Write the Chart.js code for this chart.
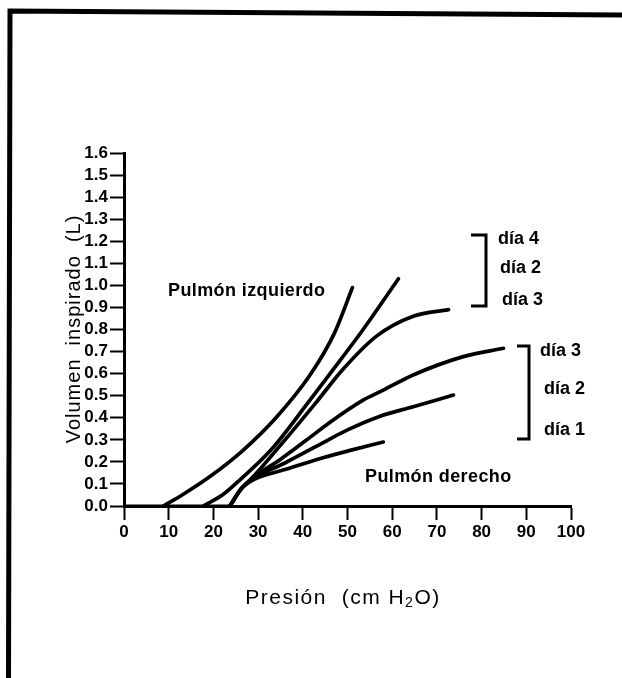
<!DOCTYPE html>
<html>
<head>
<meta charset="utf-8">
<script src="https://cdn.jsdelivr.net/npm/chart.js@4.4.1/dist/chart.umd.min.js"></script>
<style>
html,body{margin:0;padding:0;background:#fff;}
canvas{display:block;}
</style>
</head>
<body>
<canvas id="c" width="622" height="678"></canvas>
<script>
// ---- Tick labels ----
const xTickLabels = ['0','10','20','30','40','50','60','70','80','90','100'];
const yTickLabels = ['0.0','0.1','0.2','0.3','0.4','0.5','0.6','0.7','0.8','0.9','1.0','1.1','1.2','1.3','1.4','1.5','1.6'];

// ---- Series names ----
const groupNames = ['Pulmón izquierdo', 'Pulmón derecho'];
const izqNames = ['día 4', 'día 2', 'día 3'];
const derNames = ['día 3', 'día 2', 'día 1'];

// ---- Baseline (volumen 0 before inflation starts) ----
const basePresion = [0, 23.7];
const baseVolumen = [0, 0];

// ---- Pulmón izquierdo (presión cm H2O, volumen L) ----
const izqDia4Presion = [8.8, 13, 19, 26.5, 34, 41.5, 47, 51.1];
const izqDia4Volumen = [0, 0.05, 0.13, 0.25, 0.40, 0.59, 0.78, 0.99];

const izqDia2Presion = [17.7, 22, 26, 32.7, 41.6, 46.1, 53.5, 61.4];
const izqDia2Volumen = [0, 0.05, 0.12, 0.25, 0.48, 0.60, 0.80, 1.03];

const izqDia3Presion = [23.7, 26.3, 29, 35.6, 43, 49, 56.5, 64.7, 72.6];
const izqDia3Volumen = [0, 0.08, 0.135, 0.29, 0.47, 0.62, 0.77, 0.86, 0.89];

// ---- Pulmón derecho ----
const derDia3Presion = [23.7, 26.3, 29, 34.9, 40.9, 46.1, 53.5, 58, 64.7, 75.9, 84.9];
const derDia3Volumen = [0, 0.08, 0.13, 0.21, 0.30, 0.38, 0.48, 0.525, 0.594, 0.677, 0.715];

const derDia2Presion = [23.7, 26.3, 29, 36, 43, 50, 57, 64.7, 73.7];
const derDia2Volumen = [0, 0.08, 0.125, 0.195, 0.27, 0.345, 0.405, 0.45, 0.503];

const derDia1Presion = [23.7, 26.3, 29, 36, 43, 50.6, 58];
const derDia1Volumen = [0, 0.08, 0.12, 0.165, 0.21, 0.252, 0.29];

function pts(xs, ys){ return xs.map((x,i)=>({x:x, y:ys[i]})); }

function ds(label, xs, ys){
  return {
    label: label,
    data: pts(xs, ys),
    showLine: true,
    borderColor: '#000',
    backgroundColor: '#000',
    borderWidth: 3.7,
    pointRadius: 0,
    cubicInterpolationMode: 'monotone',
    clip: false,
    borderCapStyle: 'round'
  };
}

const datasets = [
  ds('base', basePresion, baseVolumen),
  ds(groupNames[0] + ' ' + izqNames[0], izqDia4Presion, izqDia4Volumen),
  ds(groupNames[0] + ' ' + izqNames[1], izqDia2Presion, izqDia2Volumen),
  ds(groupNames[0] + ' ' + izqNames[2], izqDia3Presion, izqDia3Volumen),
  ds(groupNames[1] + ' ' + derNames[0], derDia3Presion, derDia3Volumen),
  ds(groupNames[1] + ' ' + derNames[1], derDia2Presion, derDia2Volumen),
  ds(groupNames[1] + ' ' + derNames[2], derDia1Presion, derDia1Volumen)
];
datasets[0].borderWidth = 3;
datasets[0].borderCapStyle = 'butt';

const FONT = '"Liberation Sans", Arial, Helvetica, sans-serif';

const bgPlugin = {
  id: 'bg',
  beforeDraw(chart){
    const c = chart.ctx;
    c.save(); c.fillStyle = '#fff'; c.fillRect(0,0,chart.width,chart.height); c.restore();
  }
};

const overlay = {
  id: 'overlay',
  afterDraw(chart){
    const c = chart.ctx;
    c.save();
    c.strokeStyle = '#000';
    c.fillStyle = '#000';
    // frame
    c.lineWidth = 5;
    c.lineJoin = 'miter';
    c.beginPath();
    c.moveTo(8.5, 678);
    c.lineTo(10, 11);
    c.lineTo(622, 15);
    c.stroke();

    // brackets
    c.lineWidth = 3;
    c.beginPath();
    c.moveTo(471, 235); c.lineTo(486, 235); c.lineTo(486, 306); c.lineTo(471, 306);
    c.stroke();
    c.beginPath();
    c.moveTo(517, 346); c.lineTo(529, 346); c.lineTo(529, 439); c.lineTo(517, 439);
    c.stroke();

    // labels
    c.textBaseline = 'middle';
    c.textAlign = 'left';
    c.font = 'bold 18px ' + FONT;
    c.save();
    try { c.letterSpacing = '0.4px'; } catch(e){}
    c.fillText(groupNames[0], 168, 291);
    c.fillText(groupNames[1], 365, 477);
    c.restore();
    const izqPos = [[498,239],[500,268],[502,300]];
    izqNames.forEach((n,i)=>c.fillText(n, izqPos[i][0], izqPos[i][1]));
    const derPos = [[540,351],[544,389],[544,430]];
    derNames.forEach((n,i)=>c.fillText(n, derPos[i][0], derPos[i][1]));

    // y title
    c.save();
    c.translate(74, 329);
    c.rotate(-Math.PI/2);
    c.textAlign = 'center';
    c.textBaseline = 'middle';
    c.font = '20px ' + FONT;
    try { c.letterSpacing = '1px'; } catch(e){}
    c.fillText('Volumen  inspirado  (L)', 0, 0);
    c.restore();

    // x title with subscript
    c.save();
    try { c.letterSpacing = '1.5px'; } catch(e){}
    c.textAlign = 'left';
    c.textBaseline = 'alphabetic';
    const big = '21px ' + FONT, small = '14px ' + FONT;
    const p1 = 'Presión  (cm H', p2 = '2', p3 = 'O)';
    c.font = big; const w1 = c.measureText(p1).width;
    c.font = small; const w2 = c.measureText(p2).width;
    c.font = big; const w3 = c.measureText(p3).width;
    let x = 343 - (w1 + w2 + w3) / 2;
    const base = 604;
    c.font = big; c.fillText(p1, x, base); x += w1;
    c.font = small; c.fillText(p2, x, base + 3); x += w2;
    c.font = big; c.fillText(p3, x, base);
    c.restore();

    c.restore();
  }
};

new Chart(document.getElementById('c'), {
  type: 'scatter',
  data: { datasets: datasets },
  options: {
    responsive: false,
    devicePixelRatio: 1,
    animation: false,
    events: [],
    layout: { padding: { left: 0, top: 153, right: 51, bottom: 0 } },
    plugins: { legend: { display: false }, tooltip: { enabled: false }, title: { display: false } },
    scales: {
      x: {
        type: 'linear',
        min: 0, max: 100,
        afterFit(scale){ scale.height = 172; },
        afterBuildTicks(scale){ scale.ticks = xTickLabels.map(v => ({ value: Number(v) })); },
        ticks: {
          callback: (v, i) => xTickLabels[i],
          color: '#000',
          font: { family: FONT, size: 17, weight: 'bold' },
          padding: 2,
          maxRotation: 0,
          autoSkip: false
        },
        grid: { display: true, drawOnChartArea: false, drawTicks: true, tickLength: 14, tickWidth: 2, tickColor: '#000' },
        border: { display: true, color: '#000', width: 3 }
      },
      y: {
        type: 'linear',
        min: 0, max: 1.6,
        afterFit(scale){ scale.width = 124; },
        afterBuildTicks(scale){ scale.ticks = yTickLabels.map(v => ({ value: Number(v) })); },
        ticks: {
          callback: (v, i) => yTickLabels[i],
          color: '#000',
          font: { family: FONT, size: 17, weight: 'bold' },
          padding: 2,
          autoSkip: false
        },
        grid: { display: true, drawOnChartArea: false, drawTicks: true, tickLength: 14, tickWidth: 2, tickColor: '#000' },
        border: { display: true, color: '#000', width: 3 }
      }
    }
  },
  plugins: [bgPlugin, overlay]
});
</script>
</body>
</html>
